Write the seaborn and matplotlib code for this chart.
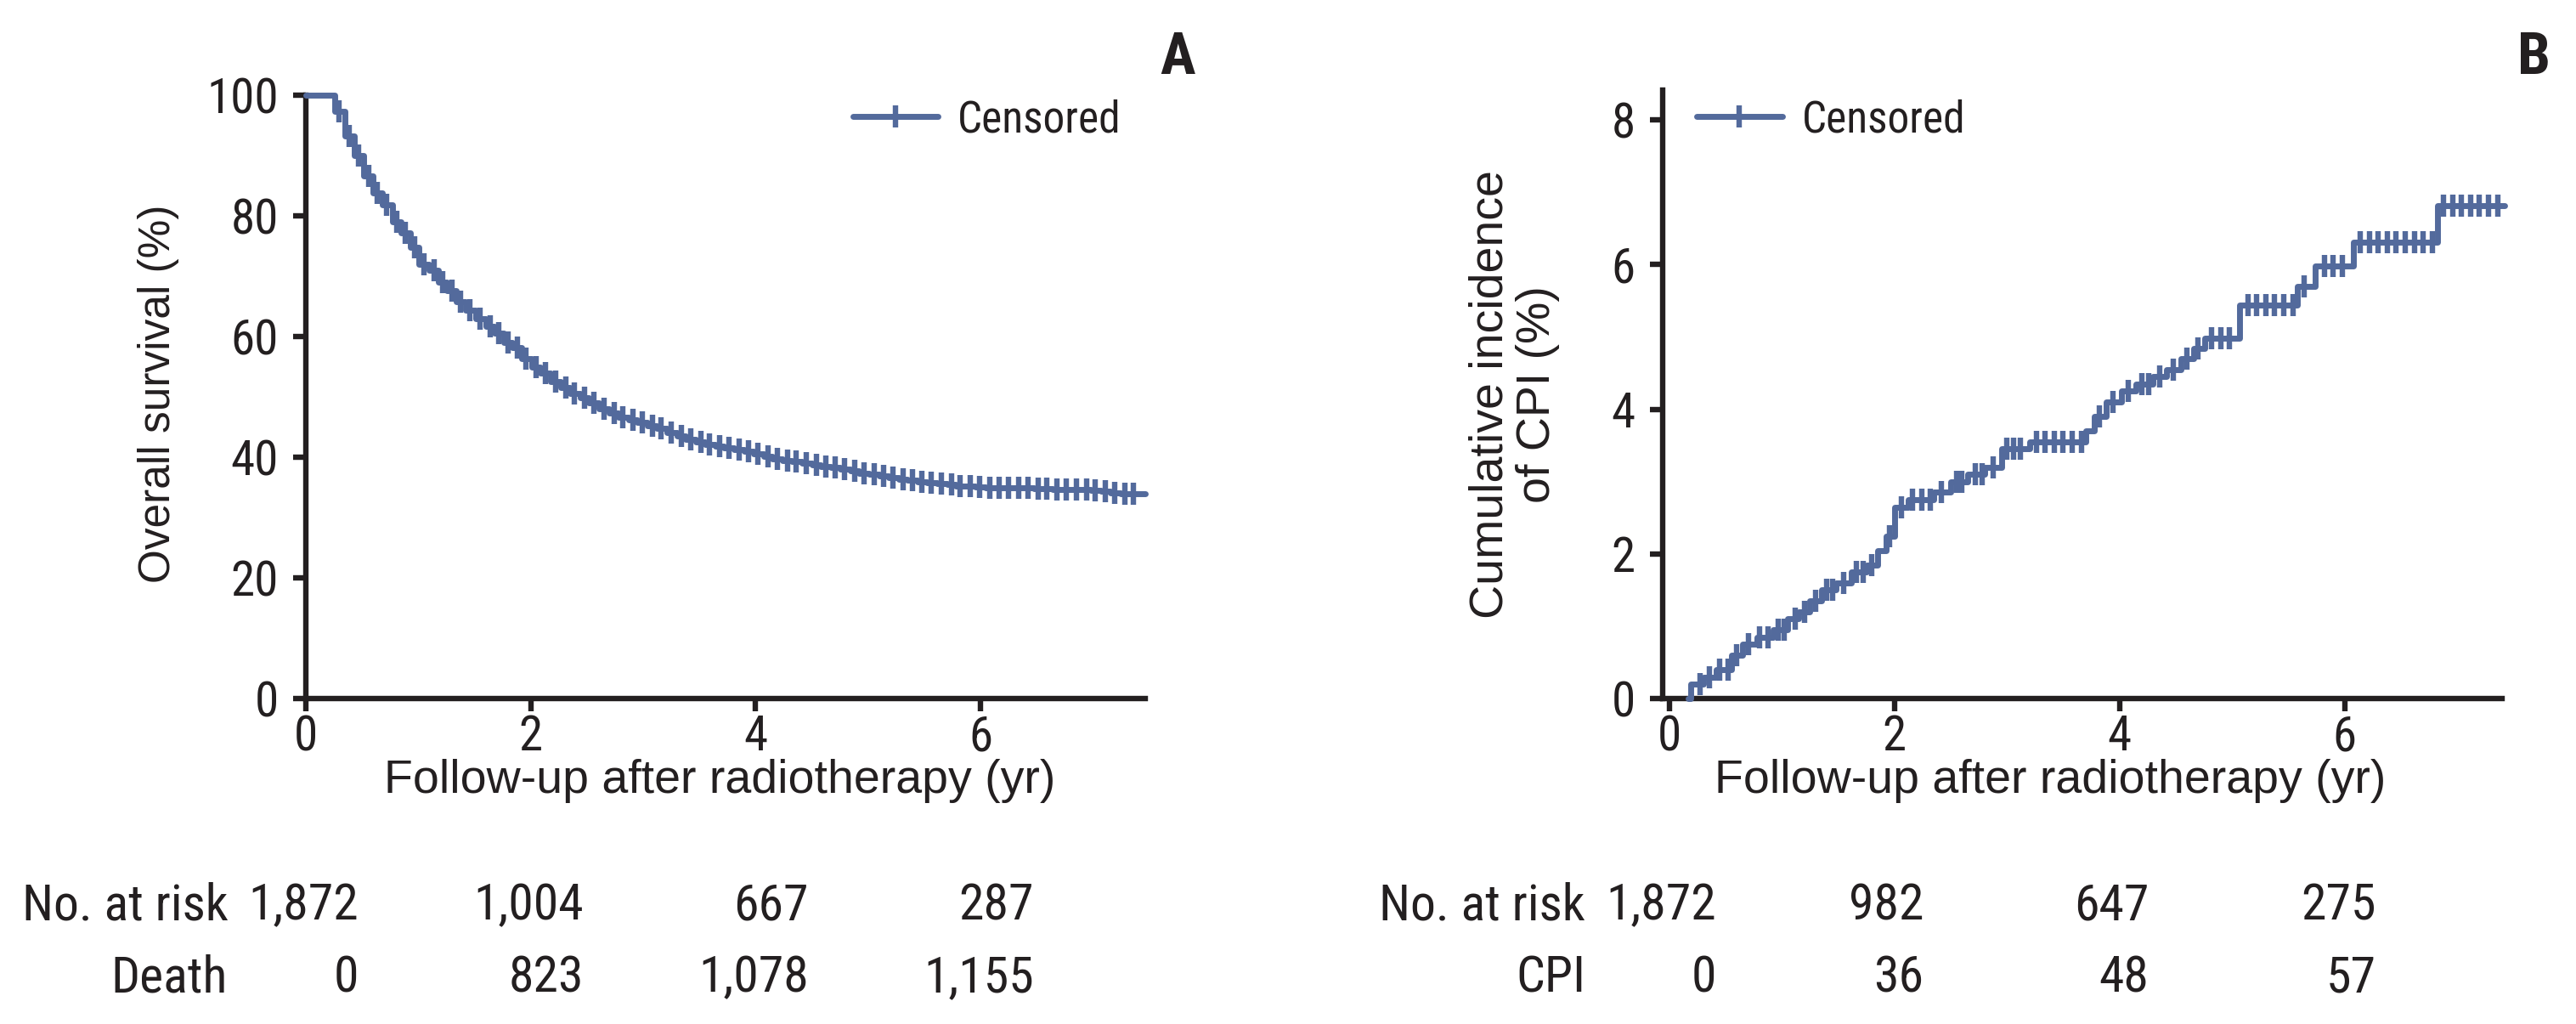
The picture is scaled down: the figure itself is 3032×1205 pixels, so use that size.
#!/usr/bin/env python3

import numpy as np
import pandas as pd
import seaborn as sns
from matplotlib import pyplot as plt
from matplotlib.lines import Line2D
from matplotlib.transforms import blended_transform_factory

# Panel A: overall survival (%), step times in years
os_time = [0.00, 0.26, 0.35, 0.43, 0.52, 0.60, 0.68, 0.77, 0.85, 0.93, 1.01, 1.10, 1.18, 1.26,
           1.34, 1.42, 1.51, 1.60, 1.68, 1.76, 1.84, 1.92, 2.01, 2.09, 2.18, 2.27, 2.35, 2.44,
           2.52, 2.61, 2.70, 2.78, 2.87, 2.95, 3.04, 3.12, 3.21, 3.30, 3.38, 3.47, 3.55, 3.64,
           3.72, 3.81, 3.90, 3.98, 4.07, 4.15, 4.24, 4.32, 4.41, 4.50, 4.58, 4.67, 4.75, 4.84,
           4.92, 5.01, 5.10, 5.18, 5.27, 5.35, 5.44, 5.52, 5.61, 5.70, 5.78, 5.87, 5.95, 6.04,
           6.12, 6.21, 6.30, 6.38, 6.47, 6.55, 6.64, 6.72, 6.81, 6.90, 6.98, 7.07, 7.15, 7.24,
           7.32, 7.46]
os_surv = [100.0, 97.3, 93.3, 90.0, 86.6, 83.8, 81.9, 79.1, 77.2, 74.8, 72.0, 71.0, 69.1, 67.7,
           65.8, 64.4, 63.0, 61.7, 60.6, 59.1, 58.2, 56.3, 54.9, 53.9, 52.5, 51.6, 50.6, 49.9,
           49.0, 48.1, 47.3, 46.7, 46.2, 45.8, 45.2, 44.8, 44.1, 43.6, 43.0, 42.6, 42.2, 41.9,
           41.6, 41.3, 41.0, 40.6, 40.2, 39.8, 39.5, 39.3, 39.1, 38.8, 38.5, 38.3, 38.0, 37.7,
           37.4, 37.2, 36.9, 36.6, 36.4, 36.2, 36.0, 35.8, 35.6, 35.5, 35.3, 35.2, 35.1, 35.0,
           35.0, 34.9, 34.9, 34.9, 34.8, 34.8, 34.7, 34.7, 34.6, 34.6, 34.5, 34.4, 34.1, 33.9,
           33.9, 33.9]
os_censor = [0.30, 0.39, 0.47, 0.56, 0.64, 0.72, 0.81, 0.89, 0.97, 1.05, 1.14, 1.22, 1.30, 1.38,
             1.46, 1.55, 1.64, 1.72, 1.80, 1.88, 1.96, 2.05, 2.13, 2.22, 2.31, 2.39, 2.48, 2.56,
             2.65, 2.74, 2.82, 2.91, 2.99, 3.08, 3.16, 3.25, 3.34, 3.42, 3.51, 3.59, 3.68, 3.76,
             3.85, 3.94, 4.02, 4.11, 4.19, 4.28, 4.36, 4.45, 4.54, 4.62, 4.71, 4.79, 4.88, 4.96,
             5.05, 5.14, 5.22, 5.31, 5.39, 5.48, 5.56, 5.65, 5.74, 5.82, 5.91, 5.99, 6.08, 6.16,
             6.25, 6.34, 6.42, 6.51, 6.59, 6.68, 6.76, 6.85, 6.94, 7.02, 7.11, 7.19, 7.28, 7.36]

# Panel B: cumulative incidence of CPI (%)
cpi_time = [0.17, 0.19, 0.30, 0.42, 0.55, 0.65, 0.78, 0.92, 1.05, 1.15, 1.25, 1.35, 1.48, 1.62,
            1.75, 1.85, 1.93, 2.00, 2.12, 2.35, 2.50, 2.65, 2.80, 2.95, 3.20, 3.70, 3.78, 3.88,
            4.02, 4.15, 4.30, 4.42, 4.55, 4.66, 4.76, 5.07, 5.58, 5.74, 6.08, 6.83, 7.42]
cpi_inc = [0.00, 0.20, 0.30, 0.40, 0.60, 0.75, 0.85, 0.95, 1.10, 1.20, 1.35, 1.50, 1.60, 1.75,
           1.85, 2.05, 2.25, 2.65, 2.75, 2.85, 3.00, 3.10, 3.20, 3.45, 3.55, 3.70, 3.90, 4.10,
           4.25, 4.35, 4.45, 4.55, 4.70, 4.84, 4.98, 5.44, 5.70, 5.98, 6.31, 6.82, 6.82]
cpi_censor = [0.27, 0.36, 0.45, 0.52, 0.60, 0.70, 0.80, 0.88, 0.97, 1.02, 1.12, 1.20, 1.30, 1.40,
              1.45, 1.55, 1.66, 1.72, 1.80, 1.96, 2.06, 2.16, 2.24, 2.32, 2.42, 2.55, 2.60, 2.72,
              2.78, 2.88, 3.00, 3.06, 3.12, 3.26, 3.34, 3.42, 3.50, 3.58, 3.66, 3.82, 3.94, 4.08,
              4.20, 4.26, 4.36, 4.48, 4.60, 4.70, 4.82, 4.90, 4.98, 5.14, 5.22, 5.30, 5.38, 5.46,
              5.54, 5.64, 5.82, 5.90, 5.98, 6.14, 6.22, 6.30, 6.38, 6.46, 6.54, 6.62, 6.70, 6.78,
              6.88, 6.96, 7.04, 7.12, 7.20, 7.28, 7.36]

# risk tables
risk_years = [0, 2, 4, 6]
a_at_risk = ["1,872", "1,004", "667", "287"]
a_deaths = ["0", "823", "1,078", "1,155"]
b_at_risk = ["1,872", "982", "647", "275"]
b_cpi = ["0", "36", "48", "57"]

BLUE = "#536a9c"
INK = "#231f20"
NARROW = ["Roboto Condensed", "DejaVu Sans Condensed", "Liberation Sans"]
REGULAR = ["Liberation Sans", "DejaVu Sans"]


def value_at(times, values, t):
    idx = np.searchsorted(times, t, side="right") - 1
    return np.asarray(values)[idx]


def draw_curve(ax, times, values, censor):
    df = pd.DataFrame({"t": times, "v": values})
    sns.lineplot(df, x="t", y="v", drawstyle="steps-post", color=BLUE, lw=2.5,
                 estimator=None, ax=ax, clip_on=False, zorder=3)
    cens = pd.DataFrame({"t": censor, "v": value_at(times, values, censor)})
    ax.plot(cens["t"], cens["v"], ls="none", marker="|", ms=9.5, mew=2.3, color=BLUE,
            clip_on=False, zorder=4)


def style_axes(ax):
    sns.despine(ax=ax)
    for side in ["left", "bottom"]:
        ax.spines[side].set_linewidth(2.3)
        ax.spines[side].set_color(INK)
    ax.tick_params(direction="out", length=5.5, width=2.3, color=INK, labelcolor=INK,
                   labelsize=20.5)
    ax.tick_params(axis="y", pad=6)
    ax.tick_params(axis="x", pad=1)
    ax.set_facecolor("white")


def add_legend(ax, anchor):
    handle = Line2D([0], [0], color=BLUE, lw=2.5, marker="|", ms=9.5, mew=2.3)
    ax.legend([handle], ["Censored"], loc="center left", bbox_to_anchor=anchor,
              frameon=False, borderaxespad=0, borderpad=0, handlelength=1.95,
              handletextpad=0.45, prop={"family": NARROW, "size": 18.5})


def add_risk_table(fig, ax, label1, row1, label2, row2, label_x, xs):
    trans = blended_transform_factory(ax.transData, fig.transFigure)
    for label, row, y in [(label1, row1, 0.102), (label2, row2, 0.031)]:
        ax.text(label_x, y, label, transform=trans, ha="right", va="baseline",
                fontsize=21.5, color=INK, clip_on=False)
        for x, txt in zip(xs, row):
            ax.text(x, y, txt, transform=trans, ha="right", va="baseline",
                    fontsize=21.5, color=INK, clip_on=False)


def main():
    sns.set_style("ticks")
    plt.rcParams["font.family"] = NARROW
    plt.rcParams["text.color"] = INK

    fig = plt.figure(figsize=(15.16, 6.025), dpi=200)
    ax_a = fig.add_axes([0.1186, 0.3178, 0.3259, 0.589])
    ax_b = fig.add_axes([0.6454, 0.3178, 0.3259, 0.594])

    # panel A
    draw_curve(ax_a, os_time, os_surv, os_censor)
    ax_a.set_xlim(0, 7.46)
    ax_a.set_ylim(0, 100)
    ax_a.set_xticks(risk_years)
    ax_a.set_yticks([0, 20, 40, 60, 80, 100])
    style_axes(ax_a)
    ax_a.set_xlabel("Follow-up after radiotherapy (yr)", family=REGULAR, fontsize=20, color=INK)
    ax_a.set_ylabel("Overall survival (%)", family=REGULAR, fontsize=18.5, color=INK)
    ax_a.xaxis.set_label_coords(0.493, -0.100)
    ax_a.yaxis.set_label_coords(-0.150, 0.505)
    add_legend(ax_a, (0.652, 0.959))
    add_risk_table(fig, ax_a, "No. at risk", a_at_risk, "Death", a_deaths, -0.69,
                   [x + 0.47 for x in risk_years])

    # panel B
    draw_curve(ax_b, cpi_time, cpi_inc, cpi_censor)
    ax_b.set_xlim(-0.06, 7.40)
    ax_b.set_ylim(0, 8.41)
    ax_b.set_xticks(risk_years)
    ax_b.set_yticks([0, 2, 4, 6, 8])
    style_axes(ax_b)
    ax_b.set_xlabel("Follow-up after radiotherapy (yr)", family=REGULAR, fontsize=20, color=INK)
    ax_b.set_ylabel("Cumulative incidence\nof CPI (%)", family=REGULAR, fontsize=20, color=INK,
                    linespacing=1.1)
    ax_b.xaxis.set_label_coords(0.462, -0.099)
    ax_b.yaxis.set_label_coords(-0.122, 0.5)
    add_legend(ax_b, (0.041, 0.951))
    add_risk_table(fig, ax_b, "No. at risk", b_at_risk, "CPI", b_cpi, -0.745,
                   [0.42, 2.26, 4.26, 6.28])

    fig.text(0.464, 0.928, "A", ha="right", va="baseline", fontsize=25, fontweight="bold")
    fig.text(0.990, 0.928, "B", ha="right", va="baseline", fontsize=25, fontweight="bold")

    fig.savefig("out.png", dpi=200, facecolor="white")
    plt.close(fig)


if __name__ == '__main__':
    main()
